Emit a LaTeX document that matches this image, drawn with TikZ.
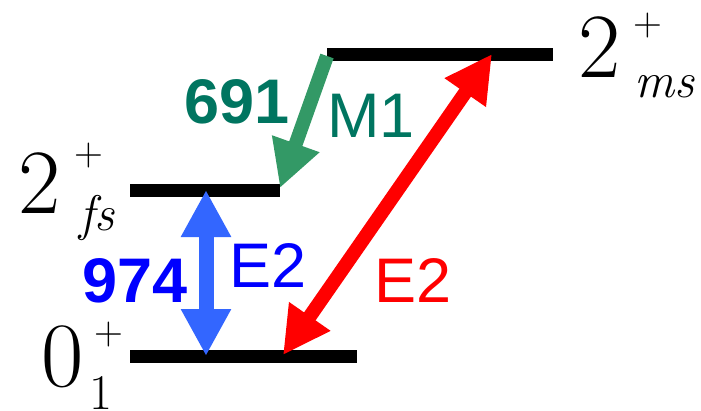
\documentclass[tikz,border=0pt]{standalone}
\usepackage{fontspec}
\setsansfont{Liberation Sans}
\newfontfamily\trfont{Liberation Sans}
\usetikzlibrary{arrows.meta}
\definecolor{tealtxt}{RGB}{0,117,96}
\definecolor{grarrow}{RGB}{51,153,102}
\definecolor{bluearrow}{RGB}{51,102,255}
\definecolor{bluetxt}{RGB}{0,0,255}
\definecolor{redc}{RGB}{255,0,0}
\begin{document}
\begin{tikzpicture}[x=1pt,y=-1pt,
  levelline/.style={line width=13pt, black},
  sanslab/.style={inner sep=0pt, anchor=base west, font=\trfont\fontsize{63}{63}\selectfont},
  sansbold/.style={inner sep=0pt, anchor=base west, font=\trfont\bfseries\fontsize{63}{63}\selectfont},
  serbase/.style={inner sep=0pt, anchor=base west, font=\rmfamily\fontsize{92}{92}\selectfont},
  sersub/.style={inner sep=0pt, anchor=base west, font=\rmfamily\fontsize{50}{50}\selectfont},
  serplus/.style={inner sep=0pt, anchor=base west, font=\rmfamily\fontsize{40}{40}\selectfont},
  onearrow/.style={line width=14pt, arrows={-Triangle[width=47pt,length=47pt]}},
  twoarrow/.style={line width=15pt, arrows={Triangle[width=47pt,length=47pt]-Triangle[width=47pt,length=47pt]}}
]
\useasboundingbox (0,0) rectangle (701,410);

% levels
\coordinate (msL) at (327,54);  \coordinate (msR) at (553,54);
\coordinate (fsL) at (130,190); \coordinate (fsR) at (280,190);
\coordinate (gsL) at (130,356); \coordinate (gsR) at (357,356);
\draw[levelline] (msL) -- (msR);
\draw[levelline] (fsL) -- (fsR);
\draw[levelline] (gsL) -- (gsR);

% arrow end points
\coordinate (mG) at (327,56);
\coordinate (fG) at (280,188);
\coordinate (fB) at (206,190);
\coordinate (gB) at (206,356);
\coordinate (gR) at (283,355);
\coordinate (mR) at (492,54);

\draw[onearrow, grarrow] (mG) -- (fG);
\draw[twoarrow, bluearrow] (gB) -- (fB);
\draw[twoarrow, line width=14pt, redc] (gR) -- (mR);

% transition labels
\node[sansbold, text=tealtxt] (t691) at (184,123) {691};
\node[sanslab, text=tealtxt] (tM1) at (327,137) {M1};
\node[sansbold, text=bluetxt] (t974) at (82,302) {974};
\node[sanslab, text=bluetxt] (tE2b) at (229,287) {E2};
\node[sanslab, text=redc] (tE2r) at (374,302) {E2};

% level labels
\node[serbase] (ms2) at (578.5,77) {2};
\node[serplus] (msp) at (633,35) {+};
\node[sersub] (mss) at (634,97) {\itshape ms};

\node[serbase] (fs2) at (18.5,213) {2};
\node[serplus] (fsp) at (74,165) {+};
\node[sersub] (fss) at (79.5,230) {\itshape fs};

\node[serbase] (gs0) at (41,386) {0};
\node[serplus] (gsp) at (94,344) {+};
\node[sersub] (gss) at (89.5,409) {1};
\end{tikzpicture}
\end{document}
